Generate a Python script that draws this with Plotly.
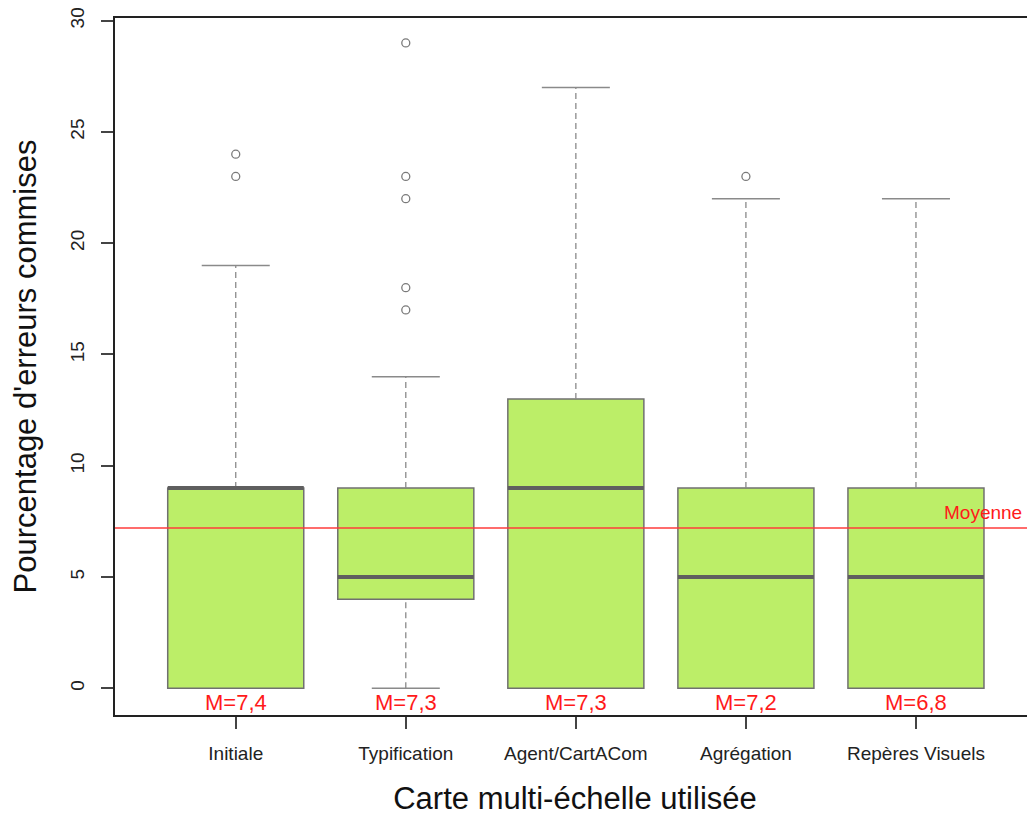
import plotly.graph_objects as go

categories = ["Initiale", "Typification", "Agent/CartACom", "Agrégation", "Repères Visuels"]
q1 = [0, 4, 0, 0, 0]
median = [9, 5, 9, 5, 5]
q3 = [9, 9, 13, 9, 9]
lower_whisker = [0, 0, 0, 0, 0]
upper_whisker = [19, 14, 27, 22, 22]
outliers = [[23, 24], [17, 18, 22, 23, 29], [], [23], []]
mean_labels = ["M=7,4", "M=7,3", "M=7,3", "M=7,2", "M=6,8"]
overall_mean = 7.2
y_ticks = [0, 5, 10, 15, 20, 25, 30]

BOX_FILL = "#BCEE68"
BOX_LINE = "#707070"
MED_LINE = "#5f5f5f"
WHISK = "#8a8a8a"
BOXW = 0.8

fig = go.Figure()
xs = list(range(1, len(categories) + 1))

for i, x in enumerate(xs):
    fig.add_trace(go.Box(
        x=[x], q1=[q1[i]], median=[median[i]], q3=[q3[i]],
        lowerfence=[q1[i]], upperfence=[q3[i]],
        width=BOXW, whiskerwidth=0,
        fillcolor=BOX_FILL, line=dict(color=BOX_LINE, width=1.5),
        boxpoints=False, showlegend=False, hoverinfo="skip",
    ))
    wx, wy = [], []
    if upper_whisker[i] > q3[i]:
        wx += [x, x, None]; wy += [q3[i], upper_whisker[i], None]
    if lower_whisker[i] < q1[i]:
        wx += [x, x, None]; wy += [lower_whisker[i], q1[i], None]
    if wx:
        fig.add_trace(go.Scatter(x=wx, y=wy, mode="lines",
                                 line=dict(color=WHISK, width=1.3, dash="6px,4px"),
                                 showlegend=False, hoverinfo="skip"))
    cx, cy = [], []
    if upper_whisker[i] > q3[i]:
        cx += [x - BOXW / 4, x + BOXW / 4, None]; cy += [upper_whisker[i], upper_whisker[i], None]
    if lower_whisker[i] < q1[i]:
        cx += [x - BOXW / 4, x + BOXW / 4, None]; cy += [lower_whisker[i], lower_whisker[i], None]
    if cx:
        fig.add_trace(go.Scatter(x=cx, y=cy, mode="lines",
                                 line=dict(color=WHISK, width=1.5),
                                 showlegend=False, hoverinfo="skip"))
    fig.add_trace(go.Scatter(x=[x - BOXW / 2, x + BOXW / 2], y=[median[i], median[i]],
                             mode="lines", line=dict(color=MED_LINE, width=4),
                             showlegend=False, hoverinfo="skip"))
    if outliers[i]:
        fig.add_trace(go.Scatter(x=[x] * len(outliers[i]), y=outliers[i], mode="markers",
                                 marker=dict(symbol="circle-open", size=8,
                                             color="#7a7a7a", line=dict(width=1.3)),
                                 showlegend=False, hoverinfo="skip"))

for i, x in enumerate(xs):
    fig.add_annotation(x=x, y=0, xref="x", yref="y", text=mean_labels[i],
                       showarrow=False, yanchor="top", yshift=0,
                       font=dict(family="Liberation Sans, Arial", size=22, color="#ff1a1a"))

fig.add_shape(type="line", xref="paper", x0=0, x1=1, yref="y", y0=overall_mean, y1=overall_mean,
              line=dict(color="#ff3b3b", width=1.5), layer="above")
fig.add_annotation(xref="paper", x=1, y=overall_mean, yref="y", text="Moyenne",
                   showarrow=False, xanchor="right", yanchor="bottom", xshift=-11, yshift=3,
                   font=dict(family="Liberation Sans, Arial", size=19, color="#ff1a1a"))

# The page body has an 8px default margin; size the figure so it fits the window
fig.update_layout(
    width=1027, height=808,
    margin=dict(l=107, r=0, t=10, b=101, autoexpand=False),
    paper_bgcolor="white", plot_bgcolor="white",
    font=dict(family="Liberation Sans, Arial", color="#222"),
    showlegend=False,
)
fig.update_xaxes(
    range=[0.29, 5.7], tickmode="array", tickvals=xs, ticktext=categories,
    showline=True, linecolor="#222", linewidth=1.5, mirror=True,
    ticks="outside", ticklen=12, tickcolor="#444", tickwidth=1.5,
    ticklabelstandoff=8, automargin=False, ticklabeloverflow="allow",
    showgrid=False, zeroline=False,
    tickfont=dict(size=19, color="#222"),
    title=dict(text="Carte multi-échelle utilisée", font=dict(size=31, color="#111"), standoff=26),
)
fig.update_yaxes(
    range=[-1.2, 30.12], tickmode="array", tickvals=y_ticks,
    showline=True, linecolor="#222", linewidth=1.5, mirror=True,
    ticks="outside", ticklen=12, tickcolor="#444", tickwidth=1.5,
    ticklabelstandoff=10, automargin=False, ticklabeloverflow="allow",
    tickangle=-90, showgrid=False, zeroline=False,
    tickfont=dict(size=19, color="#222"),
    title=dict(text="Pourcentage d'erreurs commises", font=dict(size=31, color="#111"), standoff=24),
)

fig.write_html("out.html")
